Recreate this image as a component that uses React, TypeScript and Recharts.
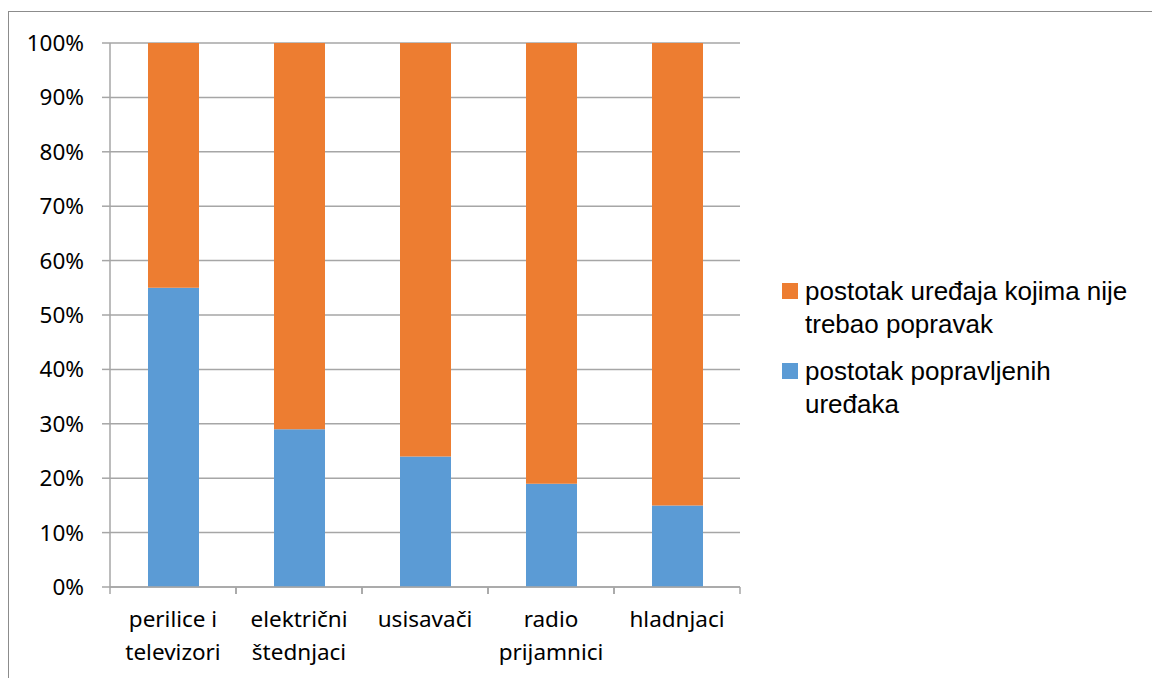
import React from 'react';
import { BarChart, Bar, XAxis, YAxis, CartesianGrid, Legend } from 'recharts';

const categories = [
  ['perilice i', 'televizori'],
  ['električni', 'štednjaci'],
  ['usisavači'],
  ['radio', 'prijamnici'],
  ['hladnjaci'],
];
const repaired = [55, 29, 24, 19, 15];
const notNeeded = [45, 71, 76, 81, 85];
const yTicks = [0, 10, 20, 30, 40, 50, 60, 70, 80, 90, 100];

const seriesNames = {
  repaired: 'postotak popravljenih uređaka',
  notNeeded: 'postotak uređaja kojima nije trebao popravak',
};

const data = categories.map((lines, i) => ({
  name: lines.join(' '),
  lines,
  repaired: repaired[i],
  notNeeded: notNeeded[i],
}));

const GRID = '#a6a6a6';
const AXIS_FONT = '"Noto Sans", sans-serif';
const BAND = 126;

function CategoryTick(props: any) {
  const { x, y, payload, index } = props;
  const lines: string[] = data[index]?.lines ?? [payload.value];
  return (
    <g>
      <line x1={x - BAND / 2} x2={x - BAND / 2} y1={y} y2={y + 7} stroke={GRID} strokeWidth={1.5} />
      <line x1={x + BAND / 2} x2={x + BAND / 2} y1={y} y2={y + 7} stroke={GRID} strokeWidth={1.5} />
      {lines.map((t, k) => (
        <text
          key={k}
          x={x}
          y={y + 40 + k * 33}
          textAnchor="middle"
          fill="#000"
          fontSize={22.5}
          fontFamily={AXIS_FONT}
        >
          {t}
        </text>
      ))}
    </g>
  );
}

function LegendBox(props: any) {
  const items = [...(props.payload ?? [])].reverse();
  return (
    <div style={{ fontFamily: '"Liberation Sans", Arial, sans-serif', fontSize: 26, color: '#000' }}>
      {items.map((it: any) => (
        <div key={it.value} style={{ display: 'flex', alignItems: 'flex-start', marginBottom: 14 }}>
          <span
            style={{
              display: 'inline-block',
              width: 16,
              height: 16,
              background: it.color,
              marginTop: 8,
              marginRight: 7,
              flex: 'none',
            }}
          />
          <span style={{ lineHeight: '33px', width: 345 }}>{it.value}</span>
        </div>
      ))}
    </div>
  );
}

export default function App() {
  return (
    <div style={{ paddingTop: 3 }}>
      <div style={{ width: 1160, height: 680, border: '1px solid #8c8c8c', boxSizing: 'border-box', background: '#fff' }}>
        <BarChart
          width={1150}
          height={666}
          data={data}
          margin={{ top: 31, right: 419, bottom: 0, left: 0 }}
          barSize={51}
        >
          <CartesianGrid vertical={false} stroke={GRID} strokeWidth={1.5} />
          <XAxis
            dataKey="name"
            height={91}
            interval={0}
            tickSize={0}
            tickMargin={0}
            tickLine={false}
            axisLine={{ stroke: GRID, strokeWidth: 1.5 }}
            tick={<CategoryTick />}
          />
          <YAxis
            width={101}
            domain={[0, 100]}
            ticks={yTicks}
            interval={0}
            tickFormatter={(v) => `${v}%`}
            tickSize={8}
            tickMargin={18}
            tickLine={{ stroke: GRID, strokeWidth: 1.5 }}
            axisLine={{ stroke: GRID, strokeWidth: 1.5 }}
            tick={{ fill: '#000', fontSize: 22.5, fontFamily: AXIS_FONT }}
          />
          <Legend
            layout="vertical"
            align="center"
            verticalAlign="middle"
            content={<LegendBox />}
            wrapperStyle={{ left: 773, top: 263, width: 380 }}
          />
          <Bar dataKey="repaired" name={seriesNames.repaired} stackId="a" fill="#5b9bd5" isAnimationActive={false} />
          <Bar dataKey="notNeeded" name={seriesNames.notNeeded} stackId="a" fill="#ed7d31" isAnimationActive={false} />
        </BarChart>
      </div>
    </div>
  );
}
